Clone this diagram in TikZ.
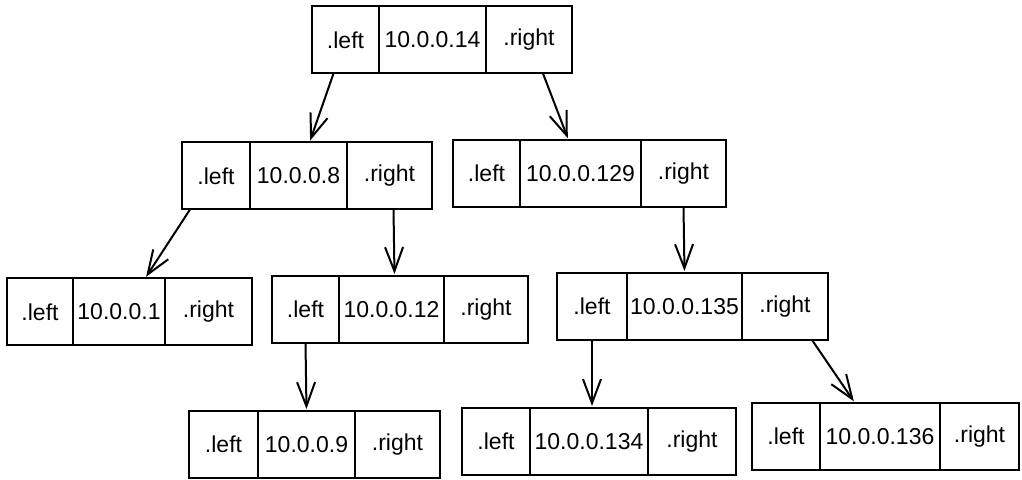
\documentclass[tikz,border=0pt]{standalone}
\usepackage{fontspec}
\setmainfont{Liberation Sans}
\usetikzlibrary{positioning,arrows.meta,calc}

\begin{document}
\begin{tikzpicture}[
      x=0.5pt, y=-0.5pt,
      >={Straight Barb[length=12pt,width=9pt]}
    ]

    \tikzstyle{cell} = [rectangle, draw=black, line width=1pt, outer sep=0pt, inner sep=0pt, minimum height=33.5pt, font=\fontsize{11.5}{13}\selectfont]
    \tikzstyle{wd} = [minimum width=#1*0.5pt]
    \tikzstyle{arrow} = [->, line width=1pt, shorten >=1pt]

    \useasboundingbox (0,0) rectangle (1022,480);

    % root
    \node [cell, wd=107] (root-m) at (432.5,40) {10.0.0.14};
    \node [cell, wd=67] (root-l) [left=0pt of root-m] {.left};
    \node [cell, wd=86] (root-r) [right=0pt of root-m] {.right};

    % second level
    \node [cell, wd=97] (n8-m) at (298.5,176) {10.0.0.8};
    \node [cell, wd=68] (n8-l) [left=0pt of n8-m] {.left};
    \node [cell, wd=85] (n8-r) [right=0pt of n8-m] {.right};

    \node [cell, wd=121] (n129-m) at (580.5,173.5) {10.0.0.129};
    \node [cell, wd=67] (n129-l) [left=0pt of n129-m] {.left};
    \node [cell, wd=85] (n129-r) [right=0pt of n129-m] {.right};

    % third level
    \node [cell, wd=92] (n1-m) at (119,312) {10.0.0.1};
    \node [cell, wd=66] (n1-l) [left=0pt of n1-m] {.left};
    \node [cell, wd=87] (n1-r) [right=0pt of n1-m] {.right};

    \node [cell, wd=105] (n12-m) at (391.5,309.5) {10.0.0.12};
    \node [cell, wd=67] (n12-l) [left=0pt of n12-m] {.left};
    \node [cell, wd=84] (n12-r) [right=0pt of n12-m] {.right};

    \node [cell, wd=115] (n135-m) at (684.5,306.5) {10.0.0.135};
    \node [cell, wd=70] (n135-l) [left=0pt of n135-m] {.left};
    \node [cell, wd=86] (n135-r) [right=0pt of n135-m] {.right};

    % bottom level
    \node [cell, wd=97] (n9-m) at (306.5,444.5) {10.0.0.9};
    \node [cell, wd=69] (n9-l) [left=0pt of n9-m] {.left};
    \node [cell, wd=85] (n9-r) [right=0pt of n9-m] {.right};

    \node [cell, wd=118] (n134-m) at (589,441.5) {10.0.0.134};
    \node [cell, wd=68] (n134-l) [left=0pt of n134-m] {.left};
    \node [cell, wd=88] (n134-r) [right=0pt of n134-m] {.right};

    \node [cell, wd=120] (n136-m) at (880,436.5) {10.0.0.136};
    \node [cell, wd=68] (n136-l) [left=0pt of n136-m] {.left};
    \node [cell, wd=79] (n136-r) [right=0pt of n136-m] {.right};

    % pointers
    \draw [arrow] ($(root-l.south)+(-12,0)$) -- ($(n8-m.north)+(11,0)$);
    \draw [arrow] ($(root-r.south)+(14,0)$) -- ($(n129-m.north)+(-12,0)$);
    \draw [arrow] ($(n8-l.south)+(-26,0)$) -- ($(n1-m.north)+(26,0)$);
    \draw [arrow] ($(n8-r.south)+(4,0)$) -- ($(n12-m.north)+(3,0)$);
    \draw [arrow] (n129-r.south) -- (n135-m.north);
    \draw [arrow] (n12-l.south) -- (n9-m.north);
    \draw [arrow] (n135-l.south) -- ($(n134-m.north)+(3,0)$);
    \draw [arrow] ($(n135-r.south)+(27,0)$) -- ($(n136-m.north)+(-25,0)$);

\end{tikzpicture}
\end{document}
